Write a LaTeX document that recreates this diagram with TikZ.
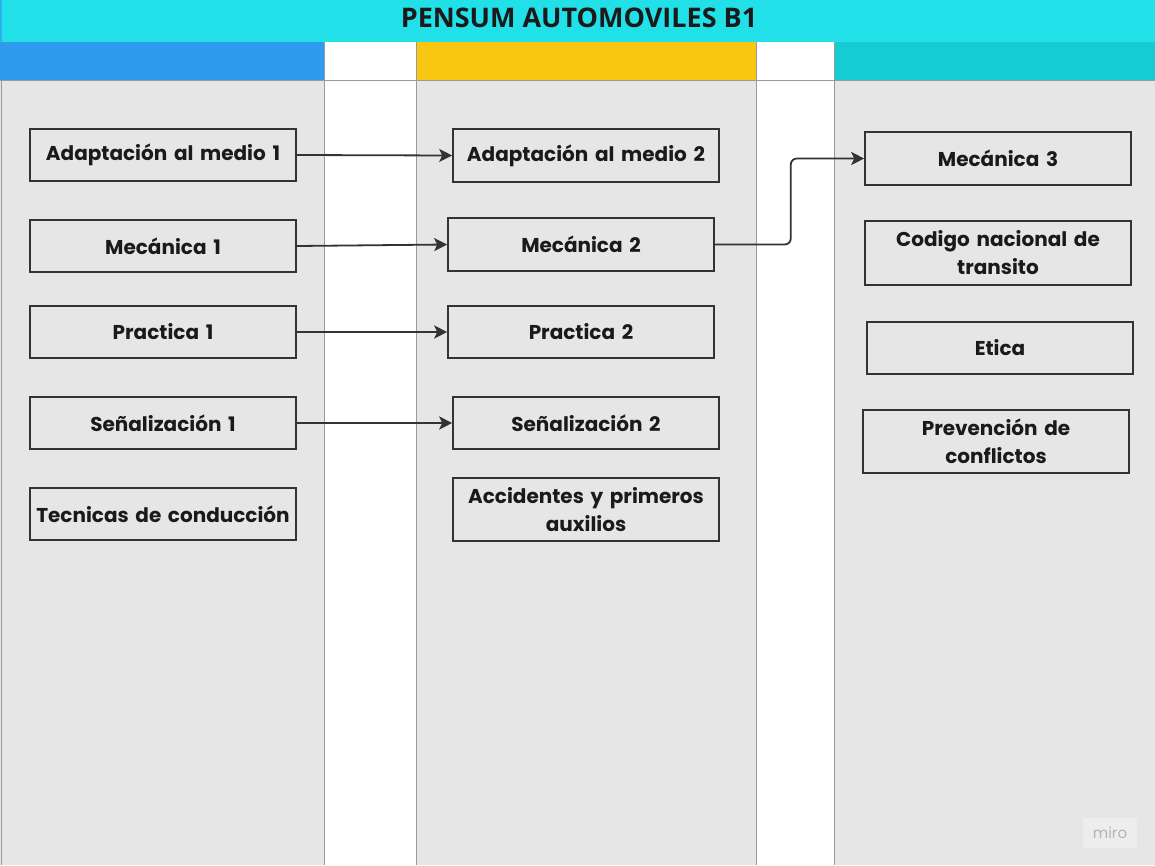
\documentclass[tikz,border=0pt]{standalone}
\usepackage{fontspec}
\newfontfamily\pop{Poppins}
\newfontfamily\osans{Open Sans}
\usetikzlibrary{arrows.meta}
\definecolor{titlec}{HTML}{22E0E8}
\definecolor{bluec}{HTML}{2F9BEE}
\definecolor{yelc}{HTML}{F9C712}
\definecolor{tealc}{HTML}{16CCD4}
\definecolor{grayc}{HTML}{E6E6E6}
\definecolor{linec}{HTML}{9A9A9A}
\definecolor{boxc}{HTML}{333333}
\definecolor{txtc}{HTML}{1A1A1A}
\definecolor{miroc}{HTML}{B4B4B4}
\definecolor{mirobg}{HTML}{EDEDED}
\tikzset{
  course/.style={draw=boxc, line width=1.6pt, minimum width=266pt, minimum height=52pt,
    text width=264pt, align=center, inner sep=0pt, text=txtc,
    font=\pop\bfseries\fontsize{20}{28}\selectfont},
  link/.style={draw=boxc, line width=1.8pt, -{Stealth[length=13pt,width=13pt,inset=3pt]}},
}
\begin{document}
\begin{tikzpicture}[x=1pt,y=-1pt]
\useasboundingbox (0,0) rectangle (1155,865);
% title
\fill[titlec] (0,0) rectangle (1155,42);
\draw[bluec!70!titlec, line width=1.5pt] (1,0) -- (1,42);
\node[font=\osans\bfseries\fontsize{27}{32}\selectfont, text=txtc] (title) at (579,18) {PENSUM AUTOMOVILES B1};
% header band
\fill[bluec] (0,42) rectangle (324,80);
\fill[white] (324,42) rectangle (416,80);
\fill[yelc] (416,42) rectangle (756,80);
\fill[white] (756,42) rectangle (834,80);
\fill[tealc] (834,42) rectangle (1155,80);
% body
\fill[grayc] (0,80) rectangle (324,865);
\fill[white] (324,80) rectangle (416,865);
\fill[grayc] (416,80) rectangle (756,865);
\fill[white] (756,80) rectangle (834,865);
\fill[grayc] (834,80) rectangle (1155,865);
\draw[linec, line width=1pt] (0,80) -- (1155,80);
\foreach \x in {324,416,756,834} \draw[linec, line width=1pt] (\x,42) -- (\x,865);
\draw[linec, line width=1pt] (1,80) -- (1,865);
% column 1
\node[course] (a1) at (163,155) {Adaptación al medio 1};
\node[course] (m1) at (163,246) {Mecánica 1};
\node[course] (p1) at (163,332) {Practica 1};
\node[course] (s1) at (163,423) {Señalización 1};
\node[course] (t1) at (163,514) {Tecnicas de conducción};
% column 2
\node[course, minimum height=53pt] (a2) at (586,155.5) {Adaptación al medio 2};
\node[course, minimum height=53pt] (m2) at (581,244.5) {Mecánica 2};
\node[course] (p2) at (581,332) {Practica 2};
\node[course] (s2) at (586,423) {Señalización 2};
\node[course, minimum height=63pt] (ac) at (586,509.5) {Accidentes y primeros\\auxilios};
% column 3
\node[course, minimum height=53pt] (m3) at (998,158.5) {Mecánica 3};
\node[course, minimum height=64pt] (cn) at (998,253) {Codigo nacional de\\transito};
\node[course] (et) at (1000,348) {Etica};
\node[course, minimum height=63pt] (pc) at (996,441.5) {Prevención de\\conflictos};
% links
\draw[link] (a1.east) -- (a2.west);
\draw[link] (m1.east) -- (m2.west);
\draw[link] (p1.east) -- (p2.west);
\draw[link] (s1.east) -- (s2.west);
\draw[link, rounded corners=6pt] (m2.east) -- ++(76,0) |- (m3.west);
% watermark
\node[fill=mirobg, minimum width=54pt, minimum height=30pt, inner sep=0pt, text=miroc,
  font=\pop\fontsize{15}{18}\selectfont] (miro) at (1110,833) {miro};
\end{tikzpicture}
\end{document}
